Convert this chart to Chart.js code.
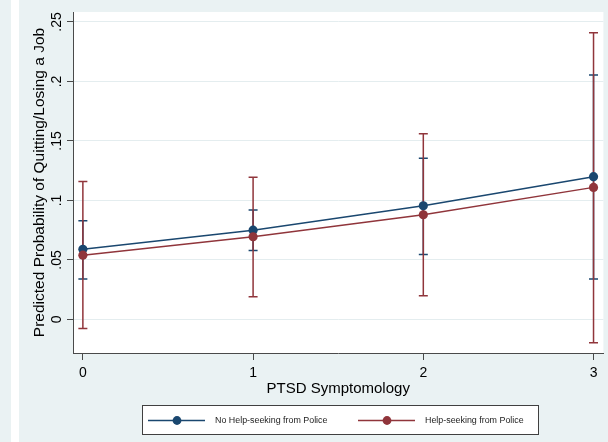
<!DOCTYPE html>
<html>
<head>
<meta charset="utf-8">
<script src="https://cdn.jsdelivr.net/npm/chart.js@4.4.1/dist/chart.umd.min.js"></script>
<style>
  html, body { margin: 0; padding: 0; background: #eaf2f3; }
  #wrap { position: absolute; left: 0; top: 0; width: 608px; height: 442px; }
  #strip { position: absolute; left: 11px; top: 0; width: 8px; height: 442px; background: #ffffff; }
  canvas { position: absolute; left: 0; top: 0; }
</style>
</head>
<body>
<div id="wrap">
  <div id="strip"></div>
  <canvas id="c" width="608" height="442"></canvas>
</div>
<script>
const categories = [0, 1, 2, 3];
const xTickLabels = ['0', '1', '2', '3'];
const yTickValues = [0, 0.05, 0.1, 0.15, 0.2, 0.25];
const yTickLabels = ['0', '.05', '.1', '.15', '.2', '.25'];

const noHelp   = [0.059, 0.075, 0.0955, 0.120];
const noHelpLo = [0.034, 0.058, 0.0545, 0.034];
const noHelpHi = [0.083, 0.092, 0.1355, 0.2055];

const help   = [0.054, 0.0695, 0.088, 0.111];
const helpLo = [-0.0077, 0.019, 0.020, -0.0195];
const helpHi = [0.116, 0.1195, 0.156, 0.241];

const seriesNames = ['No Help-seeking from Police', 'Help-seeking from Police'];
const xTitle = 'PTSD Symptomology';
const yTitle = 'Predicted Probability of Quitting/Losing a Job';

const BLUE = '#1a476f';
const RED = '#90353b';
const AXIS = '#4a4a4a';
const FONT = "'Liberation Sans', Arial, sans-serif";

function pts(vals) { return categories.map((c, i) => ({ x: c, y: vals[i] })); }

const bgPlugin = {
  id: 'bg',
  beforeDraw(chart) {
    const { ctx, chartArea: a } = chart;
    ctx.save();
    ctx.fillStyle = '#ffffff';
    ctx.fillRect(a.left, a.top, a.right - a.left, a.bottom - a.top);
    ctx.restore();
  }
};

const errPlugin = {
  id: 'errbars',
  beforeDatasetsDraw(chart) {
    const { ctx, scales: { x, y } } = chart;
    const sets = [[noHelpLo, noHelpHi, BLUE], [helpLo, helpHi, RED]];
    ctx.save();
    ctx.lineWidth = 1.5;
    sets.forEach(([lo, hi, col]) => {
      ctx.strokeStyle = col;
      categories.forEach((c, i) => {
        const px = x.getPixelForValue(c);
        const p1 = y.getPixelForValue(lo[i]);
        const p2 = y.getPixelForValue(hi[i]);
        ctx.beginPath();
        ctx.moveTo(px, p1); ctx.lineTo(px, p2);
        ctx.moveTo(px - 4.5, p1); ctx.lineTo(px + 4.5, p1);
        ctx.moveTo(px - 4.5, p2); ctx.lineTo(px + 4.5, p2);
        ctx.stroke();
      });
    });
    ctx.restore();
  }
};

const labelPlugin = {
  id: 'ylabels',
  afterDraw(chart) {
    const { ctx, scales: { y } } = chart;
    ctx.save();
    ctx.fillStyle = '#000';
    ctx.font = '14px ' + FONT;
    ctx.textAlign = 'center';
    ctx.textBaseline = 'middle';
    yTickValues.forEach((v, i) => {
      const py = y.getPixelForValue(v);
      ctx.save();
      ctx.translate(57, py);
      ctx.rotate(-Math.PI / 2);
      ctx.fillText(yTickLabels[i], 0, 0);
      ctx.restore();
    });
    ctx.restore();
  }
};

const legendPlugin = {
  id: 'stataLegend',
  afterDraw(chart) {
    const { ctx } = chart;
    ctx.save();
    ctx.fillStyle = '#ffffff';
    ctx.fillRect(142, 405, 396, 29);
    ctx.strokeStyle = '#404040';
    ctx.lineWidth = 1;
    ctx.strokeRect(142.5, 405.5, 396, 29);
    const items = [[148, BLUE, seriesNames[0]], [358, RED, seriesNames[1]]];
    const cy = 420.5;
    items.forEach(([x0, col, txt]) => {
      ctx.strokeStyle = col;
      ctx.lineWidth = 1.5;
      ctx.beginPath();
      ctx.moveTo(x0, cy); ctx.lineTo(x0 + 57, cy);
      ctx.stroke();
      ctx.fillStyle = col;
      ctx.beginPath();
      ctx.arc(x0 + 29, cy, 4.4, 0, Math.PI * 2);
      ctx.fill();
      ctx.fillStyle = '#222';
      ctx.font = '8.9px ' + FONT;
      ctx.textAlign = 'left';
      ctx.textBaseline = 'middle';
      ctx.fillText(txt, x0 + 67, cy + 0.5);
    });
    ctx.restore();
  }
};

new Chart(document.getElementById('c'), {
  type: 'line',
  data: {
    datasets: [
      { label: seriesNames[0], data: pts(noHelp), borderColor: BLUE, backgroundColor: BLUE,
        borderWidth: 1.5, pointRadius: 4.6, pointBorderWidth: 0, pointBackgroundColor: BLUE, order: 1 },
      { label: seriesNames[1], data: pts(help), borderColor: RED, backgroundColor: RED,
        borderWidth: 1.5, pointRadius: 4.6, pointBorderWidth: 0, pointBackgroundColor: RED, order: 0 }
    ]
  },
  options: {
    responsive: false,
    animation: false,
    devicePixelRatio: 1,
    layout: { padding: { left: 19, top: 12, right: 2, bottom: 0 } },
    plugins: { legend: { display: false }, tooltip: { enabled: false } },
    scales: {
      x: {
        type: 'linear',
        min: -0.058, max: 3.058,
        afterFit(s) { s.height = 89; },
        afterBuildTicks(s) { s.ticks = categories.map(v => ({ value: v })); },
        ticks: {
          color: '#000', font: { size: 14, family: FONT }, padding: 5,
          callback(v) { const i = categories.indexOf(v); return i >= 0 ? xTickLabels[i] : ''; },
          maxRotation: 0, minRotation: 0
        },
        grid: { drawOnChartArea: false, drawTicks: true, tickLength: 7, tickColor: AXIS, tickWidth: 1 },
        border: { color: AXIS, width: 1 },
        title: { display: true, text: xTitle, color: '#000', font: { size: 15, family: FONT },
                 padding: { top: 0, bottom: 44 } }
      },
      y: {
        type: 'linear',
        min: -0.0282, max: 0.2584,
        afterFit(s) { s.width = 54; },
        afterBuildTicks(s) { s.ticks = yTickValues.map(v => ({ value: v })); },
        ticks: { display: false },
        grid: { color: '#e4edef', lineWidth: 1, drawTicks: true, tickLength: 6, tickColor: AXIS, tickWidth: 1 },
        border: { color: AXIS, width: 1 },
        title: { display: true, text: yTitle, color: '#000', font: { size: 15.5, family: FONT },
                 padding: { top: 11.7, bottom: 0 } }
      }
    }
  },
  plugins: [bgPlugin, errPlugin, labelPlugin, legendPlugin]
});
</script>
</body>
</html>
